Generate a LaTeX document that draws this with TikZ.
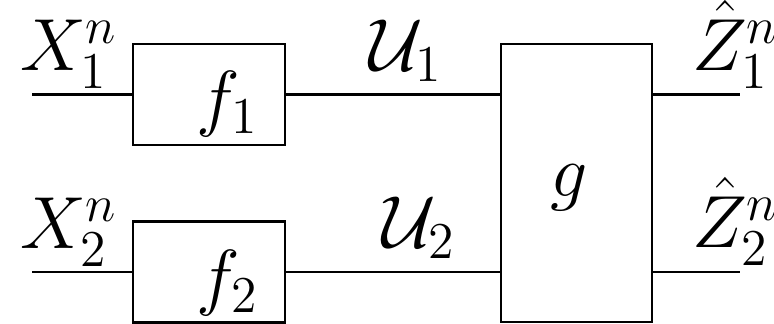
\documentclass[tikz,border=0pt]{standalone}
\usepackage{fix-cm}
\usepackage{amsmath}
\usetikzlibrary{positioning}

\begin{document}
\begin{tikzpicture}[
  line width=0.6pt,
  font=\fontsize{21}{25}\selectfont,
  block/.style={draw, minimum width=1.52cm, minimum height=1.01cm, inner sep=0pt},
  lbl/.style={inner sep=0pt, anchor=base west}
]
  \useasboundingbox (0,0) rectangle (7.74,3.23);

  % encoders and decoder
  \node[block] (f1) at (2.09,2.285) {};
  \node[block] (f2) at (2.09,0.51) {};
  \node[block, minimum width=1.51cm, minimum height=2.78cm] (g) at (5.765,1.40) {};

  \coordinate (in1) at (0.32,2.285);
  \coordinate (in2) at (0.32,0.51);
  \coordinate (out1) at (7.40,2.285);
  \coordinate (out2) at (7.40,0.51);

  \draw (in1) -- (f1.west);
  \draw (in2) -- (f2.west);
  \draw (f1.east) -- (f1.east -| g.west);
  \draw (f2.east) -- (f2.east -| g.west);
  \draw (g.east |- out1) -- (out1);
  \draw (g.east |- out2) -- (out2);

  % labels
  \node[lbl] (x1) at (0.19,2.53) {$X_1^n$};
  \node[lbl] (x2) at (0.19,0.75) {$X_2^n$};
  \node[lbl] (u1) at (3.68,2.53) {$\mathcal{U}_1$};
  \node[lbl] (u2) at (3.81,0.76) {$\mathcal{U}_2$};
  \node[lbl] (z1) at (6.91,2.53) {$\hat{Z}_1^n$};
  \node[lbl] (z2) at (6.91,0.76) {$\hat{Z}_2^n$};
  \node[lbl] (f1lbl) at (1.95,2.01) {$f_1$};
  \node[lbl] (f2lbl) at (1.95,0.22) {$f_2$};
  \node[lbl] (glbl) at (5.49,1.27) {$g$};
\end{tikzpicture}
\end{document}
